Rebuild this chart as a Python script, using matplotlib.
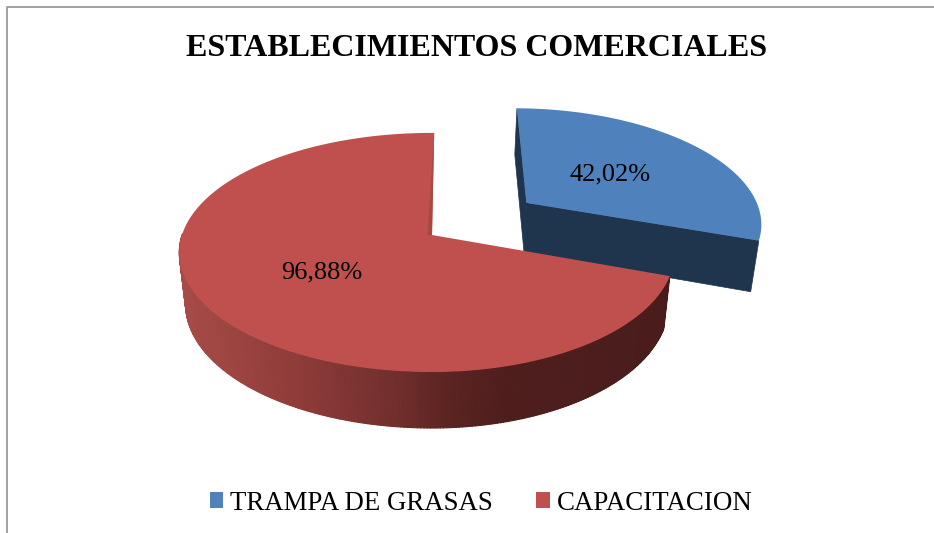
import numpy as np
import matplotlib
matplotlib.use("Agg")
from matplotlib import pyplot as plt
from matplotlib.collections import PolyCollection
from matplotlib.colors import LinearSegmentedColormap
from matplotlib.path import Path
from matplotlib.transforms import Transform

plt.rcParams['font.family'] = ['Liberation Serif', 'DejaVu Serif']

TITLE = "ESTABLECIMIENTOS COMERCIALES"
labels = ["TRAMPA DE GRASAS", "CAPACITACION"]
values = [42.02, 96.88]
explode = [0.5, 0]
colors = ["#4f81bd", "#c0504d"]

W, H = 934, 533
# where the pie centre lands and how the disc is tilted, in pixels
CX, CY = 432, 235
A_LEFT, A_RIGHT, B, K = 250, 240, 117, 0.146


def project(u, v):
    d = 1 + K * v
    a = np.where(np.asarray(u) < 0, A_LEFT, A_RIGHT)
    return CX + a * u / d, CY - B * v / d


def project_low(u, v):
    # same point on the underside of the disc
    x, y = project(u, v)
    return CX + 0.975 * (x - CX), y + 51 + 0.037 * (y - 237)


class Tilt(Transform):
    input_dims = 2
    output_dims = 2
    is_separable = False

    def transform_non_affine(self, values):
        values = np.asarray(values)
        x, y = project(values[:, 0], values[:, 1])
        return np.column_stack([x, y])

    def transform_path_non_affine(self, path):
        # sample the curves first, control points do not survive the tilt
        pts = []
        for curve, code in path.iter_bezier():
            if code != Path.MOVETO:
                pts.append(curve(np.linspace(0, 1, 24)))
        return Path(self.transform_non_affine(np.vstack(pts)))


def side_quads(wedge, start, stop):
    t = np.radians(np.linspace(start, stop, 240))
    u = wedge.center[0] + wedge.r * np.cos(t)
    v = wedge.center[1] + wedge.r * np.sin(t)
    x1, y1 = project(u, v)
    x2, y2 = project_low(u, v)
    quads = []
    for i in range(len(t) - 1):
        quads.append([(x1[i], y1[i]), (x1[i + 1], y1[i + 1]),
                      (x2[i + 1], y2[i + 1]), (x2[i], y2[i])])
    return quads, (x1[:-1] + x1[1:]) / 2


def cut_face(wedge, angle):
    t = np.radians(angle)
    u = wedge.center[0] + wedge.r * np.cos(t)
    v = wedge.center[1] + wedge.r * np.sin(t)
    a = project(*wedge.center)
    b = project(u, v)
    c = project_low(u, v)
    d = project_low(*wedge.center)
    return [a, b, c, d]


fig = plt.figure(figsize=(W / 100, H / 100), dpi=100)
ax = fig.add_axes([0, 0, 1, 1])

wedges, _ = ax.pie(values, explode=explode, colors=colors, startangle=89.4,
                   counterclock=False, frame=True)
ax.set_aspect('auto')
ax.set_xlim(0, W)
ax.set_ylim(H, 0)
ax.axis('off')

tilt = Tilt() + ax.transData
for w in wedges:
    w.set_transform(tilt)
    w.set_clip_on(False)
    w.set_linewidth(0)
blue, red = wedges
blue.set_zorder(4)
red.set_zorder(8)

# blue block: front cut face and thin back edge
navy = "#1f344d"
ax.fill(*zip(*cut_face(blue, blue.theta1)), color=navy, lw=0.5, zorder=3)
ax.fill(*zip(*cut_face(blue, blue.theta2)), color=navy, lw=0.5, zorder=3)

# red block: shaded rim, darker to the right
shade = LinearSegmentedColormap.from_list("rim", [
    (0.0, "#a64b47"), (0.24, "#8e3b39"), (0.45, "#702e2c"),
    (0.55, "#5c2422"), (0.68, "#4e1e1d"), (1.0, "#4a1d1c")])
quads, mid_x = side_quads(red, red.theta1 + 90, red.theta2)
rim = PolyCollection(quads, array=(mid_x - 185) / (660 - 185), cmap=shade,
                     clim=(0, 1), edgecolors='face', linewidths=0.8, zorder=6)
ax.add_collection(rim)

# darker sliver along the far cut edge of the red slice
tip = cut_face(red, red.theta1)
ax.fill([tip[1][0], tip[0][0], tip[0][0] - 4.5],
        [tip[1][1], tip[0][1], tip[0][1]], color="#a84845", lw=0, zorder=9)

ax.text(610, 174, "{:.2f}%".format(values[0]).replace(".", ","), fontsize=19,
        ha='center', va='center', color='black', zorder=10)
ax.text(322, 272, "{:.2f}%".format(values[1]).replace(".", ","), fontsize=19,
        ha='center', va='center', color='black', zorder=10)
ax.text(477, 49, TITLE, fontsize=23, fontweight='bold', ha='center',
        va='center', color='black')

ax.legend(wedges, labels, ncol=2, frameon=False, fontsize=19.4,
          loc='center', bbox_to_anchor=(481, 503), bbox_transform=ax.transData,
          handlelength=0.5, handleheight=0.5, handletextpad=0.26,
          columnspacing=1.6, borderpad=0)

# chart frame, only left and top are visible
ax.plot([7, 7, 934], [533, 7, 7], color="#a0a0a0", lw=1.4, clip_on=False, zorder=1)

fig.savefig("out.png", dpi=100)
